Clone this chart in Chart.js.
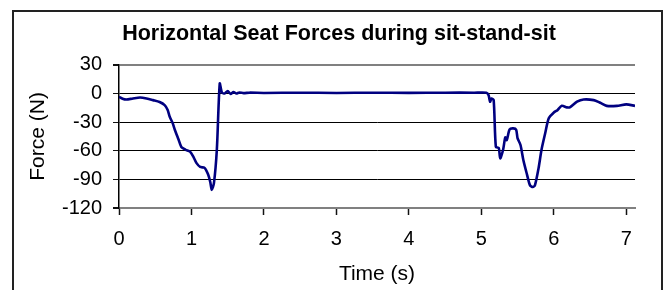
<!DOCTYPE html>
<html>
<head>
<meta charset="utf-8">
<script src="https://cdn.jsdelivr.net/npm/chart.js@4/dist/chart.umd.min.js"></script>
<style>
    body { margin: 0; background: #fff; }
    #wrap { position: relative; width: 668px; height: 290px; }
    #frame {
        position: absolute; left: 12px; top: 10px; width: 651px; height: 290px;
        border: 2px solid #222; border-bottom: none; box-sizing: border-box;
    }
    canvas { position: absolute; left: 0; top: 0; }
</style>
</head>
<body>
<div id="wrap">
    <div id="frame"></div>
    <canvas id="seatChart" width="668" height="290"></canvas>
</div>
<script>

// time (s) and horizontal seat force (N)
const timeValues = [
    0, 0.05, 0.1, 0.18, 0.29, 0.38, 0.47, 0.56, 0.63, 0.67, 0.70, 0.74, 0.77, 0.82, 0.86, 0.92,
    0.98, 1.03, 1.07, 1.12, 1.18, 1.23, 1.26, 1.28, 1.31, 1.35, 1.39, 1.42, 1.46, 1.50, 1.54,
    1.58, 1.62, 1.66, 1.72, 1.8, 2.0, 2.5, 3.0, 3.5, 4.0, 4.5, 4.9, 5.07, 5.10, 5.12, 5.14,
    5.17, 5.20, 5.24, 5.26, 5.30, 5.33, 5.35, 5.39, 5.44, 5.48, 5.50, 5.54, 5.58, 5.63, 5.67,
    5.71, 5.74, 5.79, 5.83, 5.88, 5.93, 6.0, 6.05, 6.11, 6.18, 6.22, 6.32, 6.41, 6.55, 6.64,
    6.73, 6.87, 7.0, 7.12
];
const forceValues = [
    -3.5, -5.5, -6.3, -5.5, -4.2, -5.2, -7, -9, -12.2, -17, -24.4, -31, -38, -48, -56, -59,
    -61, -67, -73, -77, -78, -85, -93, -101, -94, -59, 10.4, 1, 0, 2.5, -0.5,
    1.5, 0, 1, 0.3, 0.8, 0.5, 0.8, 0.5, 0.8, 0.6, 0.8, 0.8, 0.8, -2, -8.7, -5.3,
    -7, -56, -57, -68, -59, -46, -49, -37.6, -36.6, -38, -47, -54, -70, -85, -96,
    -98, -96, -78, -59, -42, -26, -20, -17.5, -13, -14.6, -14.6, -8.7, -6.3, -7, -9.8,
    -13, -13, -11.5, -13
];

const yTicks = [30, 0, -30, -60, -90, -120];
const xTicks = [0, 1, 2, 3, 4, 5, 6, 7];

const points = timeValues.map((t, i) => ({ x: t, y: forceValues[i] }));

const font = "'Liberation Sans', Arial, sans-serif";
const isEdge = ctx => ctx.tick && (ctx.tick.value === 30 || ctx.tick.value === -120);

new Chart(document.getElementById("seatChart"), {
    type: "line",
    data: {
        datasets: [{
            data: points,
            borderColor: "#000080",
            borderWidth: 2.6,
            pointRadius: 0,
            tension: 0.25,
            fill: false
        }]
    },
    options: {
        responsive: false,
        animation: false,
        layout: { padding: { left: 10, right: 0, top: 0, bottom: 0 } },
        plugins: {
            legend: { display: false },
            tooltip: { enabled: false },
            title: {
                display: true,
                text: "Horizontal Seat Forces during sit-stand-sit",
                color: "#000",
                font: { family: font, size: 21.5, weight: "bold" },
                padding: { top: 21, bottom: 18 }
            }
        },
        scales: {
            x: {
                type: "linear",
                min: 0,
                max: 7.12,
                afterFit: s => { s.height = 82; },
                afterBuildTicks: s => {
                    s.ticks = xTicks.map(v => ({ value: v }));
                },
                ticks: {
                    color: "#000",
                    font: { family: font, size: 20 },
                    padding: 12,
                    maxRotation: 0
                },
                grid: {
                    drawOnChartArea: false,
                    tickLength: 7,
                    tickColor: "#111",
                    tickWidth: 1.5
                },
                border: { display: true, color: "#808080", width: 2 },
                title: {
                    display: true,
                    text: "Time (s)",
                    color: "#000",
                    font: { family: font, size: 21 },
                    padding: { top: 0, bottom: 3 }
                }
            },
            y: {
                min: -120,
                max: 30,
                afterFit: s => { s.width = 109; },
                afterBuildTicks: s => {
                    s.ticks = yTicks.map(v => ({ value: v }));
                },
                ticks: {
                    color: "#000",
                    font: { family: font, size: 20 },
                    padding: 11
                },
                grid: {
                    color: ctx => isEdge(ctx) ? "#808080" : "#000",
                    lineWidth: ctx => isEdge(ctx) ? 2 : 1,
                    tickColor: "#111",
                    tickLength: 6
                },
                border: { display: true, color: "#000", width: 1.5 },
                title: {
                    display: true,
                    text: "Force (N)",
                    color: "#000",
                    font: { family: font, size: 21 },
                    padding: { top: 16, bottom: 0 }
                }
            },
            // empty right-hand box that only keeps the margin on the right
            gap: {
                position: "right",
                afterFit: s => { s.width = 33; },
                ticks: { display: false },
                grid: { display: false },
                border: { display: false }
            }
        }
    }
});
</script>
</body>
</html>
